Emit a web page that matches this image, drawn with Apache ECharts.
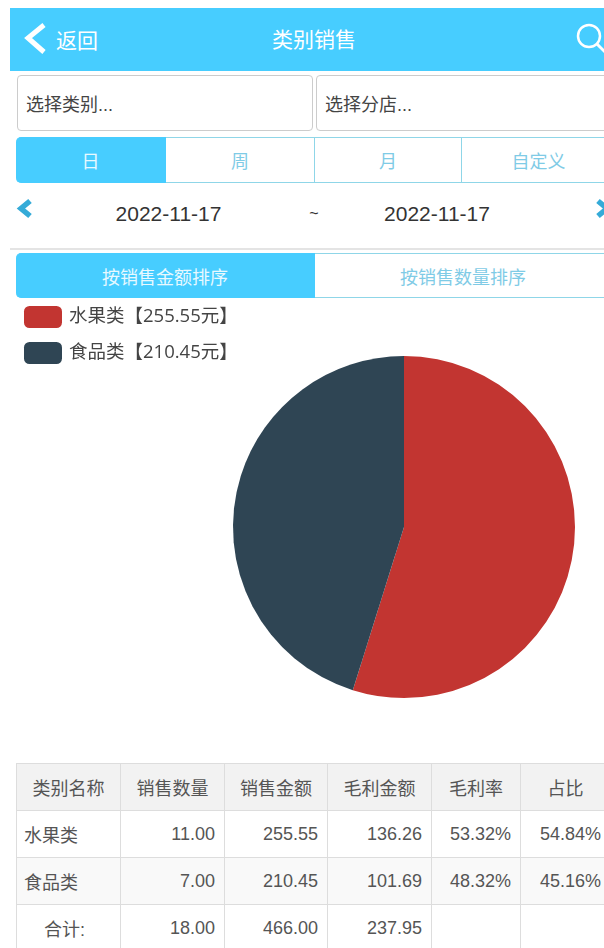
<!DOCTYPE html>
<html><head><meta charset="utf-8">
<script src="https://cdn.jsdelivr.net/npm/echarts@6/dist/echarts.min.js"></script>
<style>
html,body{margin:0;padding:0;background:#fff;overflow:hidden}
body{width:604px;height:948px;position:relative;font-family:"Liberation Sans","Noto Sans CJK SC",sans-serif;color:#333}
.a{position:absolute;box-sizing:border-box}
.c{display:flex;align-items:center;justify-content:center}
#hd{left:10px;top:8px;width:594px;height:63px;background:#47cdff}
.sel{top:75px;height:56px;border:1px solid #ccc;border-radius:4px;font-size:18px;padding-left:8px;display:flex;align-items:center;color:#444;background:#fff}
.seg{color:#7fcbe6;font-size:18px;border-top:1px solid #8fd6e8;border-bottom:1px solid #8fd6e8;border-right:1px solid #8fd6e8;background:#fff}
.on{background:#47cdff;color:#e8f9ff;border-color:#47cdff}
table{position:absolute;left:16px;top:763px;border-collapse:collapse;table-layout:fixed;width:594px;font-size:18px;color:#555}
td{border:1px solid #ddd;height:47px;box-sizing:border-box;padding:0 9px 0 0;text-align:right;white-space:nowrap}
tr.h td{background:#f2f2f2;text-align:center;padding:0}
tr.s td{background:#f9f9f9}
td.n{text-align:left;padding-left:7px}
td.t{text-align:center;padding-right:8px}
#chart{position:absolute;left:0;top:298px;width:604px;height:440px}
</style></head><body>
<div class="a" id="hd"></div>
<div class="a c" style="left:56px;top:7px;height:63px;color:#fff;font-size:21px" id="back"></div>
<div class="a c" style="left:214px;top:6px;width:200px;height:63px;color:#fff;font-size:21px" id="title"></div>
<svg class="a" style="left:0;top:0" width="604" height="72">
<path d="M44 25 L28 38 L44 52" fill="none" stroke="#fff" stroke-width="5"/>
<circle cx="589" cy="36" r="11" fill="none" stroke="#fff" stroke-width="2.5"/>
<path d="M597 44 L606 53" stroke="#fff" stroke-width="3"/>
</svg>
<div class="a sel" style="left:17px;width:296px" id="s1"></div>
<div class="a sel" style="left:316px;width:300px" id="s2"></div>
<div class="a" id="periods"></div>
<svg class="a" style="left:0;top:195px" width="604" height="30">
<path d="M30 6 L21 13.500 L30 21" fill="none" stroke="#35abd8" stroke-width="5.500"/>
<path d="M598 6 L607 13.500 L598 21" fill="none" stroke="#35abd8" stroke-width="5.500"/>
</svg>
<div class="a c" style="left:68.500px;top:200px;width:200px;height:28px;font-size:21px" id="d1"></div>
<div class="a c" style="left:294px;top:200px;width:40px;height:28px;font-size:16px">~</div>
<div class="a c" style="left:337px;top:200px;width:200px;height:28px;font-size:21px" id="d2"></div>
<div class="a" style="left:10px;top:248px;width:594px;height:2px;background:#e4e4e4"></div>
<div class="a" id="sorts"></div>
<div id="chart"></div>
<table id="tb"></table>
<script>
var categories = ["水果类", "食品类"];
var salesAmount = [255.55, 210.45];
var sliceColors = ["#c23531", "#2f4554"];
var tableHeader = ["类别名称", "销售数量", "销售金额", "毛利金额", "毛利率", "占比"];
var salesQty = ["11.00", "7.00"];
var salesAmtText = ["255.55", "210.45"];
var grossProfit = ["136.26", "101.69"];
var grossRate = ["53.32%", "48.32%"];
var share = ["54.84%", "45.16%"];
var totals = ["合计:", "18.00", "466.00", "237.95", "", ""];
var periodTabs = ["日", "周", "月", "自定义"];
var sortTabs = ["按销售金额排序", "按销售数量排序"];
var dates = ["2022-11-17", "2022-11-17"];

document.getElementById("back").textContent = "返回";
document.getElementById("title").textContent = "类别销售";
document.getElementById("s1").textContent = "选择类别...";
document.getElementById("s2").textContent = "选择分店...";
document.getElementById("d1").textContent = dates[0];
document.getElementById("d2").textContent = dates[1];

function tabs(hostId, labels, edges, top, h) {
  var host = document.getElementById(hostId), html = "";
  labels.forEach(function (l, i) {
    var st = "left:" + edges[i] + "px;width:" + (edges[i + 1] - edges[i]) + "px;top:" + top + "px;height:" + h + "px;";
    if (i === 0) st += "border-radius:5px 0 0 5px;";
    html += '<div class="a c seg' + (i === 0 ? " on" : "") + '" style="' + st + '">' + l + "</div>";
  });
  host.innerHTML = html;
}
tabs("periods", periodTabs, [16, 166, 315, 462, 616], 137, 46);
tabs("sorts", sortTabs, [16, 315, 612], 253, 45);

var widths = [104, 104, 103, 104, 89, 90];
var rows = '<colgroup>' + widths.map(function (w) { return '<col style="width:' + w + 'px">'; }).join("") + '</colgroup>';
rows += '<tr class="h">' + tableHeader.map(function (t) { return "<td>" + t + "</td>"; }).join("") + "</tr>";
categories.forEach(function (c, i) {
  rows += '<tr' + (i === 1 ? ' class="s"' : '') + '><td class="n">' + c + "</td><td>" + salesQty[i] + "</td><td>" + salesAmtText[i] +
    "</td><td>" + grossProfit[i] + "</td><td>" + grossRate[i] + "</td><td>" + share[i] + "</td></tr>";
});
rows += "<tr>" + totals.map(function (t, i) { return "<td" + (i === 0 ? ' class="t"' : "") + ">" + t + "</td>"; }).join("") + "</tr>";
document.getElementById("tb").innerHTML = rows;

var chart = echarts.init(document.getElementById("chart"), null, { renderer: "canvas" });
chart.setOption({
  animation: false,
  color: sliceColors,
  legend: {
    orient: "vertical", left: 19, top: 3, itemWidth: 38, itemHeight: 22, itemGap: 14,
    icon: "roundRect",
    data: categories,
    textStyle: { fontSize: 18.5, color: "#444", padding: [0, 0, 0, 2], fontFamily: '"Open Sans","Noto Sans CJK SC",sans-serif' },
    formatter: function (name) {
      return name + "【" + salesAmount[categories.indexOf(name)] + "元】";
    }
  },
  series: [{
    type: "pie", center: [404, 229], radius: [0, 171], startAngle: 90, clockwise: true,
    label: { show: false }, labelLine: { show: false },
    data: categories.map(function (c, i) { return { name: c, value: salesAmount[i] }; })
  }]
});
</script>
</body></html>
